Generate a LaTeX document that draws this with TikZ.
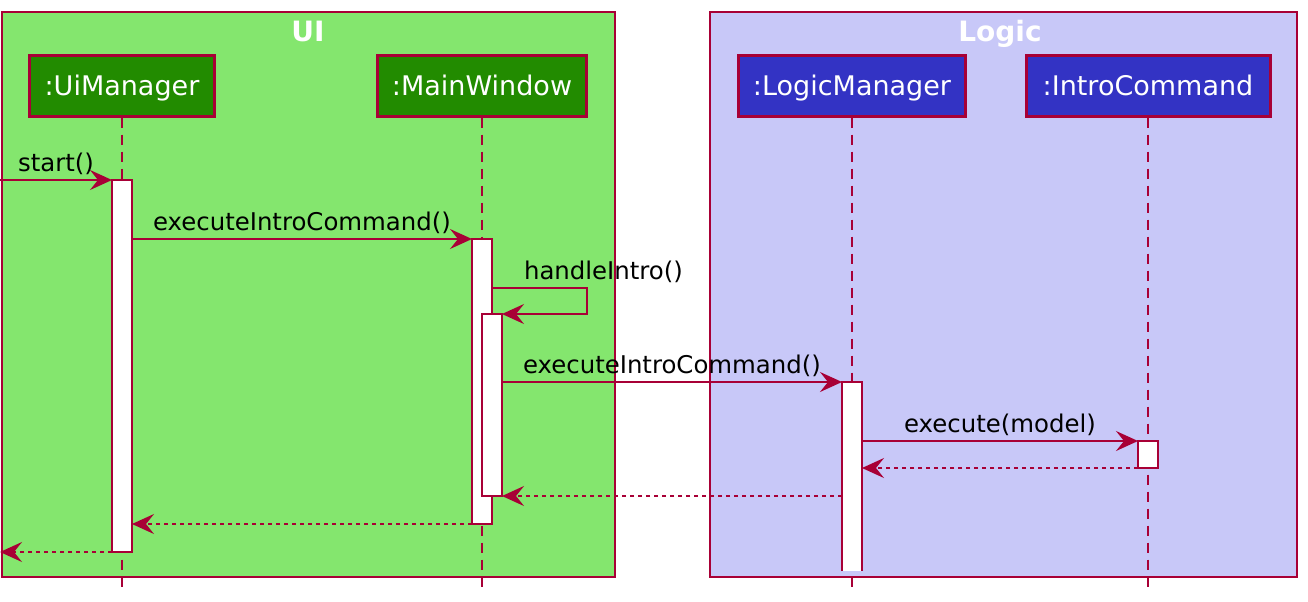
\documentclass[tikz,border=0pt]{standalone}
\usepackage{fontspec}
\setmainfont{DejaVu Sans}
\usetikzlibrary{arrows.meta,calc,positioning}

\definecolor{crim}{RGB}{168,0,54}
\definecolor{uibg}{RGB}{132,230,110}
\definecolor{uipart}{RGB}{34,139,0}
\definecolor{logicbg}{RGB}{200,200,248}
\definecolor{logicpart}{RGB}{51,51,196}

\begin{document}
\begin{tikzpicture}[x=0.5pt, y=-0.5pt,
    frame/.style={draw=crim, line width=0.75pt},
    title/.style={text=white, anchor=base, font=\fontsize{14}{16}\selectfont\bfseries},
    part/.style={draw=crim, line width=1.5pt, text=white, minimum height=30.5pt, inner sep=0pt,
                 text height=10pt, text depth=-1.5pt, font=\fontsize{13.5}{16}\selectfont},
    life/.style={draw=crim, line width=0.9pt, dash pattern=on 5pt off 3.5pt},
    act/.style={fill=white, draw=crim, line width=1pt, minimum width=10pt, inner sep=0pt, outer sep=0pt},
    msg/.style={draw=crim, line width=1pt, -{Stealth[length=11pt, width=10pt, inset=4pt]}},
    ret/.style={msg, dash pattern=on 2pt off 2pt},
    lbl/.style={anchor=base, yshift=4.5pt, font=\fontsize{12.2}{14}\selectfont}]

    \useasboundingbox (0,0) rectangle (1308,601);

    % boxes
    \draw[frame, fill=uibg]    (2,12)   rectangle (615,577);
    \draw[frame, fill=logicbg] (710,12) rectangle (1297,577);
    \node[title] (uititle)    at (308,41)  {UI};
    \node[title] (logictitle) at (1000,41) {Logic};

    % participants
    \node[part, fill=uipart,    minimum width=92.5pt]  (um) at (122,85.5)  {:UiManager};
    \node[part, fill=uipart,    minimum width=104.5pt] (mw) at (482,85.5)  {:MainWindow};
    \node[part, fill=logicpart, minimum width=113.5pt] (lm) at (852,85.5)  {:LogicManager};
    \node[part, fill=logicpart, minimum width=122pt]   (ic) at (1148,85.5) {:IntroCommand};

    \coordinate (bottom) at (0,588);
    \draw[life] (um.south) -- (um.south |- bottom);
    \draw[life] (mw.south) -- (mw.south |- bottom);
    \draw[life] (lm.south) -- (lm.south |- bottom);
    \draw[life] (ic.south) -- (ic.south |- bottom);

    % activations
    \node[act, minimum height=186pt]   (a1) at (122,366)    {};
    \node[act, minimum height=142.5pt] (a2) at (482,381.5)  {};
    \node[act, minimum height=91pt]    (a3) at (492,405)    {};
    \node[act, draw=none, minimum height=94.5pt] (a4) at (852,476.5) {};
    \draw[crim, line width=1pt] (a4.south west) -- (a4.north west) -- (a4.north east) -- (a4.south east);
    \node[act, minimum height=13.5pt]  (a5) at (1148,454.5) {};

    % messages
    \coordinate (in)     at (0,180);
    \coordinate (out)    at (0,552);
    \coordinate (hiturn) at (587,288);

    \draw[msg] (in) -- node[lbl] {start()} (a1.north west);
    \draw[msg] (a1.east |- a2.north) -- node[lbl] {executeIntroCommand()} (a2.north west);
    \draw[msg] (a2.east |- hiturn) -- (hiturn) -- (hiturn |- a3.north) -- (a3.north east);
    \node[lbl, anchor=base west] (hilbl) at (517,288) {handleIntro()};
    \draw[msg] (a3.east |- a4.north) -- node[lbl] {executeIntroCommand()} (a4.north west);
    \draw[msg] (a4.east |- a5.north) -- node[lbl] {execute(model)} (a5.north west);

    \draw[ret] (a5.south west) -- (a4.east |- a5.south);
    \draw[ret] (a4.west |- a3.south) -- (a3.south east);
    \draw[ret] (a2.south west) -- (a1.east |- a2.south);
    \draw[ret] (a1.south west) -- (out |- a1.south west);

\end{tikzpicture}
\end{document}
